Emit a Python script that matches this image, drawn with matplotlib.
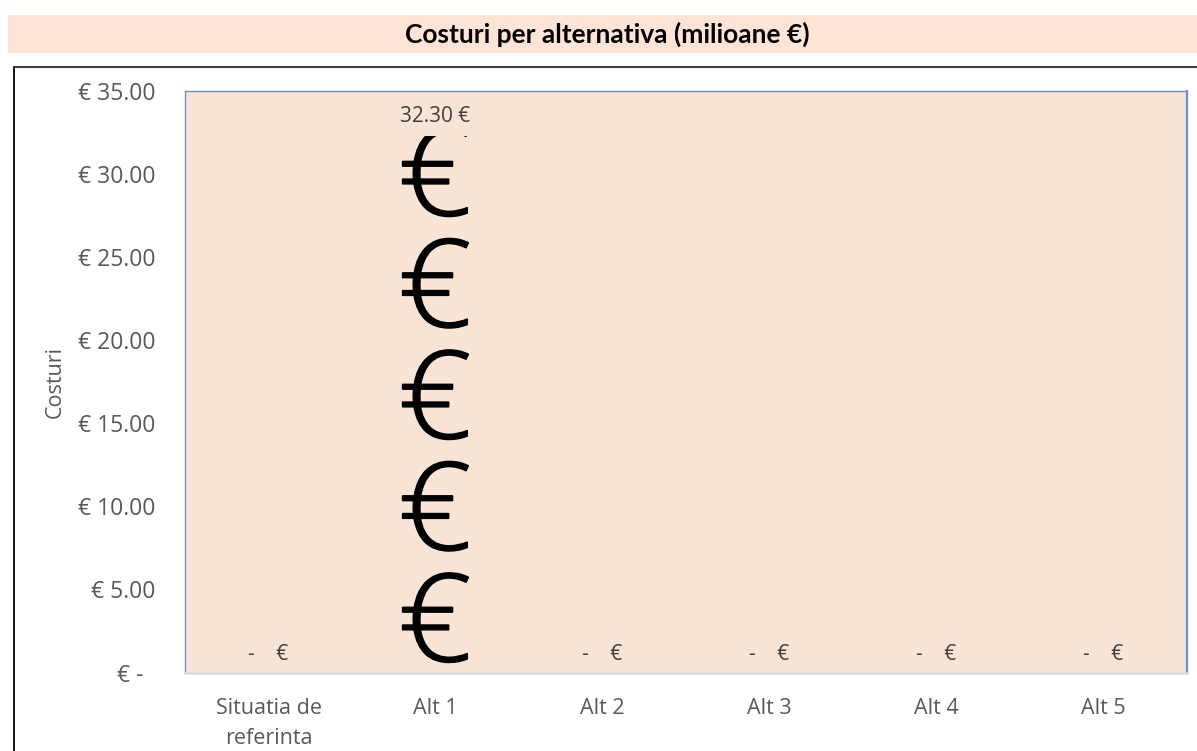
import matplotlib
matplotlib.use('Agg')
from matplotlib import pyplot as plt
from matplotlib.font_manager import FontProperties
from matplotlib.patches import PathPatch, Rectangle
from matplotlib.text import TextPath
from matplotlib.transforms import Affine2D

categories = ['Situatia de\nreferinta', 'Alt 1', 'Alt 2', 'Alt 3', 'Alt 4', 'Alt 5']
costs = [0, 32.30, 0, 0, 0, 0]
value_labels = ['-    €', '32.30 €', '-    €', '-    €', '-    €', '-    €']
y_ticks = [0, 5, 10, 15, 20, 25, 30, 35]
y_tick_labels = ['€ -  ', '€ 5.00', '€ 10.00', '€ 15.00', '€ 20.00', '€ 25.00', '€ 30.00', '€ 35.00']
euro_unit = 6.71

W, H = 1197, 751
text_grey = '#595959'
plt.rcParams['font.family'] = ['Open Sans', 'DejaVu Sans']

fig = plt.figure(figsize=(W / 100, H / 100), dpi=100)

# title band and the outer frame
fig.patches.append(Rectangle((8 / W, 1 - 53 / H), 1189 / W, 38 / H, transform=fig.transFigure,
                             facecolor='#fde4d6', edgecolor='none'))
fig.add_artist(plt.Line2D([14 / W, 14 / W], [0, 1 - 67 / H], color='black', linewidth=1.3))
fig.add_artist(plt.Line2D([14 / W, 1], [1 - 67 / H, 1 - 67 / H], color='#404040', linewidth=1.5))
fig.text(607.5 / W, 1 - 34 / H, 'Costuri per alternativa (milioane €)', ha='center', va='center',
         fontsize=19, fontweight='bold', color='black', family=['Lato', 'DejaVu Sans'])

ax = fig.add_axes([185 / W, 1 - 672.5 / H, 1002 / W, 581.5 / H])
ax.set_facecolor('#fae4d6')
ax.set_xlim(-0.5, 5.5)
ax.set_ylim(0, 35 * 581.5 / 583.4)

# one euro sign per unit, cut off at the height of the value
font = FontProperties(family='Open Sans', weight='light')
glyph = TextPath((0, 0), '€', size=1, prop=font)
box = glyph.get_extents()
glyph_w = 0.395
glyph_h = 5.4
for i, value in enumerate(costs):
    if value <= 0:
        continue
    clip = Rectangle((i - 0.5, 0), 1, value, transform=ax.transData)
    n = 0
    while n * euro_unit < value:
        move = (Affine2D().translate(-box.x0, -box.y0)
                .scale(glyph_w / box.width, glyph_h / box.height)
                .translate(i - glyph_w / 2, 0.6 + n * euro_unit))
        patch = PathPatch(glyph, transform=move + ax.transData, facecolor='black', edgecolor='black',
                          linewidth=1)
        ax.add_patch(patch)
        patch.set_clip_path(clip)
        n += 1

for i, value in enumerate(costs):
    if value > 0:
        ax.text(i, value + 1.15, value_labels[i], ha='center', va='center', fontsize=15, color='#404040')
    else:
        ax.text(i, 1.08, value_labels[i], ha='center', va='center', fontsize=15, color='#404040')

ax.set_xticks(range(len(categories)))
ax.set_xticklabels(categories, fontsize=15.5, color=text_grey, linespacing=1.6)
ax.set_yticks(y_ticks)
ax.set_yticklabels(y_tick_labels, fontsize=16.5, color=text_grey)
ax.tick_params(axis='both', length=0)
ax.tick_params(axis='x', pad=18)
ax.tick_params(axis='y', pad=21)
ax.set_ylabel('Costuri', fontsize=15.5, color=text_grey)
ax.yaxis.set_label_coords((66 - 185) / 1002, 0.5)

for side in ['left', 'top', 'right']:
    ax.spines[side].set_color('#6f8fc9')
ax.spines['left'].set_linewidth(1)
ax.spines['top'].set_linewidth(1)
ax.spines['right'].set_linewidth(1.6)
ax.spines['bottom'].set_color('#d9dae0')
ax.spines['bottom'].set_linewidth(1.8)

fig.savefig('out.png', dpi=100)
